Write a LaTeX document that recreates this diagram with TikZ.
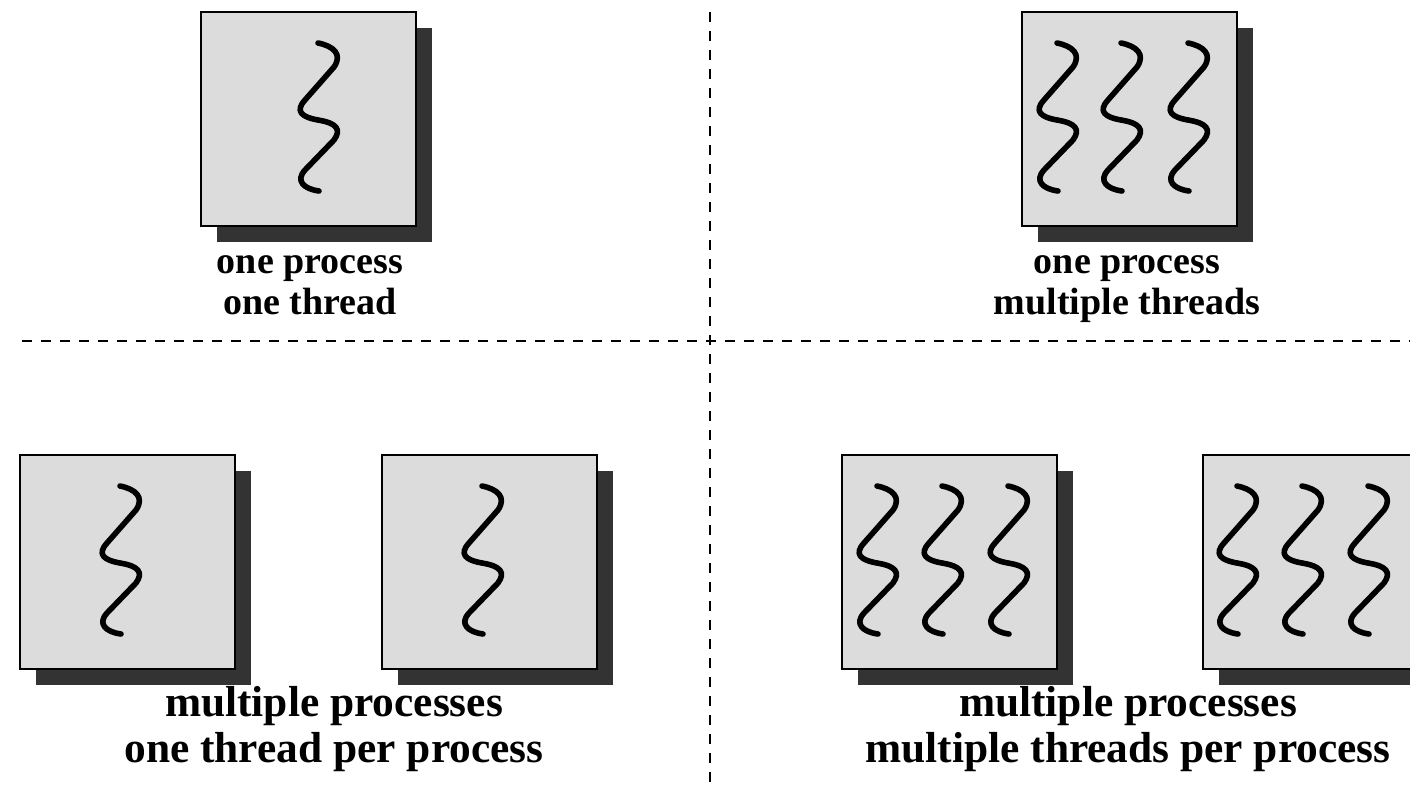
\documentclass[tikz,border=0pt]{standalone}
\usepackage{fontspec}
\setmainfont{Liberation Serif}
\definecolor{boxgray}{HTML}{DCDCDC}
\definecolor{shadowgray}{HTML}{333333}
\tikzset{
  procbox/.style={draw=black, line width=1.1pt, fill=boxgray},
  procshadow/.style={fill=shadowgray},
  threadline/.style={line width=2.8pt, line cap=round, line join=round},
  divider/.style={line width=1.4pt, dash pattern=on 5pt off 4.5pt},
  smallcap/.style={font=\fontsize{19}{20.5}\selectfont\bfseries, align=center, anchor=base},
  bigcap/.style={font=\fontsize{21.7}{23}\selectfont\bfseries, align=center, anchor=base},
}
% one wavy thread, #1 is its top end
\newcommand{\drawthread}[1]{%
  \draw[threadline, shift={#1}] (0,0) .. controls (15,-3) and (25,-11) .. (16,-24)
    -- (-13,-57) .. controls (-23,-68) and (-17,-74) .. (0,-77)
    .. controls (18,-80) and (24,-86) .. (16,-97)
    -- (-13,-127) .. controls (-23,-138) and (-14,-146) .. (1,-148);}

\begin{document}
\begin{tikzpicture}[x=0.5pt, y=0.5pt]
    \clip (0,0) rectangle (1410,784);

    \coordinate (TL) at (201,772);
    \coordinate (TR) at (1022,772);
    \coordinate (BA) at (20,329);
    \coordinate (BB) at (382,329);
    \coordinate (BC) at (842,329);
    \coordinate (BD) at (1203,329);

% dividers
\draw[divider] (710,772) -- (710,0);
\draw[divider] (22,443) -- (1410,443);

% process boxes with their shadows
\foreach \p in {TL,TR,BA,BB,BC,BD} {
  \fill[procshadow] ([shift={(16,-16)}]\p) rectangle ++(215,-214);
  \draw[procbox] (\p) rectangle ++(215,-214);
}

% threads
\drawthread{(318,741)}
\foreach \x in {1057,1121,1188} {\drawthread{(\x,741)}}
\drawthread{(120,298)}
\drawthread{(482,298)}
\foreach \x in {877,942,1008,1237,1302,1368} {\drawthread{(\x,298)}}

% captions (base = last line)
\node[smallcap] (capTL) at (310,470) {one process\\one thread};
\node[smallcap] (capTR) at (1127,470) {one process\\multiple threads};
\node[bigcap] (capBL) at (334,22) {multiple processes\\one thread per process};
\node[bigcap] (capBR) at (1128,22) {multiple processes\\multiple threads per process};

\end{tikzpicture}
\end{document}
